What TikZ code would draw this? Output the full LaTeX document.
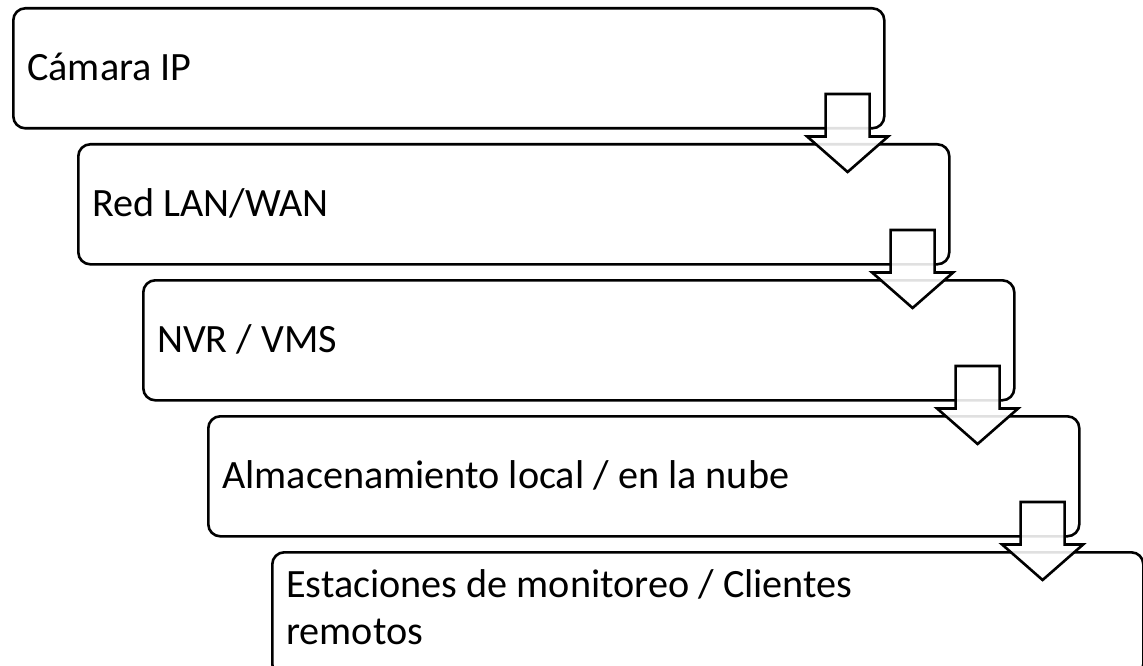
\documentclass[tikz,border=0pt]{standalone}
\usepackage{fontspec}
\setmainfont{Carlito}
\usetikzlibrary{calc}

\tikzset{
  stage/.style={draw=black, line width=2.6pt, rounded corners=12pt, fill=white,
    rectangle, minimum width=871pt, minimum height=120pt, inner sep=0pt,
    anchor=north west},
  lbl/.style={inner sep=0pt, anchor=base west, align=left,
    font=\fontsize{40.2pt}{47pt}\selectfont},
  downarrow/.style={draw=black, line width=2.6pt, line join=miter,
    fill=white, fill opacity=0.88}
}

\begin{document}
\begin{tikzpicture}[x=1pt,y=-1pt]
  \useasboundingbox (0,0) rectangle (1143,666);
  \clip (0,0) rectangle (1143,666);

  % stacked process stages
  \node[stage] (b1) at (12,7)   {};
  \node[stage] (b2) at (77,143) {};
  \node[stage] (b3) at (142,279) {};
  \node[stage] (b4) at (207,415) {};
  \node[stage, minimum height=124pt] (b5) at (271,551) {};

  % stage labels
  \node[lbl] (t1) at ($(b1.west)+(15,12)$) {Cámara IP};
  \node[lbl] (t2) at ($(b2.west)+(15,12)$) {Red LAN/WAN};
  \node[lbl] (t3) at ($(b3.west)+(15,12)$) {NVR / VMS};
  \node[lbl] (t4) at ($(b4.west)+(15,12)$) {Almacenamiento local / en la nube};
  \node[lbl] (t5) at ($(b5.west)+(15,30)$) {Estaciones de monitoreo / Clientes\\remotos};

  % block arrows leading from each stage to the next
  \foreach \i in {1,2,3,4}{
    \coordinate (c\i) at (b\i.south east);
  }
  \foreach \i/\y in {1/127,2/263,3/399,4/535}{
    \coordinate (e\i) at ($(c\i |- 0,\y)$);
    \draw[downarrow]
      ($(e\i)+(-60,-33)$) -- ($(e\i)+(-16,-33)$) -- ($(e\i)+(-16,9.5)$)
      -- ($(e\i)+(2.5,9.5)$) -- ($(e\i)+(-38,45)$) -- ($(e\i)+(-78.5,9.5)$)
      -- ($(e\i)+(-60,9.5)$) -- cycle;
  }
\end{tikzpicture}
\end{document}
